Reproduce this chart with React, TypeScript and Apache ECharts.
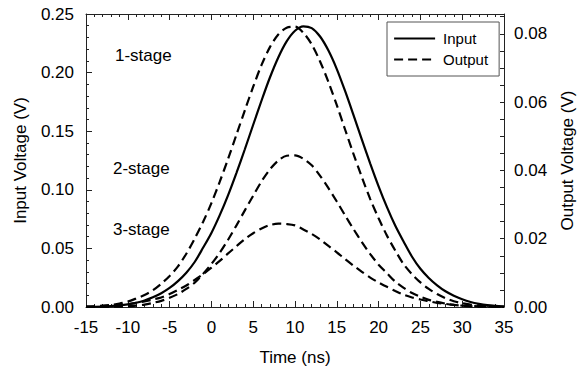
import { useEffect, useRef } from 'react';
import * as echarts from 'echarts';

// Time axis samples (ns)
const times = [-15, -14, -13, -12, -11, -10, -9, -8, -7, -6, -5, -4, -3, -2, -1, 0, 1, 2, 3, 4, 5, 6, 7, 8, 9, 10, 11, 12, 13, 14, 15, 16, 17, 18, 19, 20, 21, 22, 23, 24, 25, 26, 27, 28, 29, 30, 31, 32, 33, 34, 35];

// Input voltage (V), left axis
const inputV = [0.0001, 0.0002, 0.0004, 0.0008, 0.0013, 0.0022, 0.0036, 0.0056, 0.0083, 0.0118, 0.0163, 0.0221, 0.0293, 0.0384, 0.0505,
  0.0632, 0.0784, 0.0955, 0.1145, 0.1346, 0.1555, 0.1762, 0.1958, 0.2129, 0.2266, 0.2357,
  0.2395, 0.2379, 0.2308, 0.2188, 0.2030, 0.1841, 0.1637, 0.1428, 0.1224, 0.1030, 0.0852, 0.0693, 0.0557, 0.0429, 0.0326, 0.0248, 0.0185, 0.0134, 0.0096, 0.0066, 0.0043, 0.0027, 0.0016, 0.0010, 0.0006];

// Output voltage (V), right axis
const output1 = [0.0001, 0.0002, 0.0004, 0.0006, 0.0010, 0.0016, 0.0025, 0.0035, 0.0049, 0.0068, 0.0091, 0.0119, 0.0156, 0.0200, 0.0249,
  0.0304, 0.0367, 0.0434, 0.0505, 0.0576, 0.0645, 0.0709, 0.0761, 0.0798, 0.0818, 0.0821,
  0.0803, 0.0769, 0.0719, 0.0659, 0.0591, 0.0519, 0.0448, 0.0380, 0.0316, 0.0260, 0.0209, 0.0165, 0.0125, 0.0096, 0.0072, 0.0053, 0.0038, 0.0026, 0.0017, 0.0011, 0.0007, 0.0004, 0.0002, 0.0001, 0.0001];
const output2 = [0, 0, 0, 0.0001, 0.0001, 0.0002, 0.0004, 0.0007, 0.0012, 0.0018, 0.0027, 0.0038, 0.0053, 0.0071, 0.0097,
  0.0126, 0.0159, 0.0197, 0.0239, 0.0283, 0.0326, 0.0368, 0.0403, 0.0429, 0.0443, 0.0444,
  0.0434, 0.0415, 0.0384, 0.0348, 0.0309, 0.0268, 0.0228, 0.0190, 0.0155, 0.0124, 0.0099, 0.0074, 0.0056, 0.0041, 0.0030, 0.0021, 0.0015, 0.0010, 0.0006, 0.0004, 0.0002, 0.0001, 0.0001, 0, 0];
const output3 = [0.0001, 0.0001, 0.0002, 0.0003, 0.0005, 0.0008, 0.0012, 0.0016, 0.0022, 0.0028, 0.0038, 0.0050, 0.0063, 0.0079, 0.0096,
  0.0115, 0.0135, 0.0157, 0.0178, 0.0199, 0.0216, 0.0230, 0.0240, 0.0244, 0.0243, 0.0239,
  0.0227, 0.0214, 0.0198, 0.0179, 0.0160, 0.0140, 0.0121, 0.0103, 0.0086, 0.0072, 0.0059, 0.0047, 0.0036, 0.0028, 0.0022, 0.0017, 0.0012, 0.0009, 0.0006, 0.0004, 0.0003, 0.0002, 0.0001, 0.0001, 0];

const stageLabels = ['1-stage', '2-stage', '3-stage'];

const FONT = 'Liberation Sans, Arial, Helvetica, sans-serif';
const AXIS_COLOR = '#222';

export default function App() {
  const ref = useRef<HTMLDivElement>(null);
  useEffect(() => {
    const chart = echarts.init(ref.current!, undefined, { renderer: 'svg', width: 584, height: 371 });
    const pairs = (ys: number[]) => times.map((t, i) => [t, ys[i]]);
    const solid = { color: '#000', width: 2.2, type: 'solid' as const };
    const dashed = { color: '#000', width: 2.2, type: [9, 5] as number[] };
    const axisLine = { show: true, onZero: false, lineStyle: { color: AXIS_COLOR, width: 1 } };
    const xCommon = {
      type: 'value' as const,
      min: -15,
      max: 35,
      interval: 5,
      axisLine,
      axisTick: { show: true, inside: true, length: 6, lineStyle: { color: AXIS_COLOR } },
      minorTick: { show: true, splitNumber: 5, length: 3, lineStyle: { color: AXIS_COLOR } },
      splitLine: { show: false },
    };
    chart.setOption({
      animation: false,
      backgroundColor: '#fff',
      textStyle: { fontFamily: FONT, color: '#000' },
      grid: { left: 86, top: 14, width: 422, height: 295.5 },
      legend: {
        data: ['Input', 'Output'],
        orient: 'vertical',
        left: 387,
        top: 22,
        itemWidth: 41,
        itemHeight: 15,
        itemGap: 6,
        padding: [9, 11, 9, 6],
        borderColor: '#555',
        borderWidth: 1,
        backgroundColor: '#fff',
        itemStyle: { color: 'rgba(0,0,0,0)', borderColor: 'rgba(0,0,0,0)', borderWidth: 0 },
        lineStyle: { color: '#000', width: 2.2 },
        textStyle: { fontFamily: FONT, fontSize: 15, color: '#000', padding: [0, 0, 0, 3] },
        selectedMode: false,
      },
      xAxis: [
        {
          ...xCommon,
          position: 'bottom',
          name: 'Time (ns)',
          nameLocation: 'middle',
          nameGap: 42,
          nameTextStyle: { fontFamily: FONT, fontSize: 17, color: '#000' },
          axisLabel: { fontFamily: FONT, fontSize: 17, color: '#000', margin: 12 },
        },
        {
          ...xCommon,
          position: 'top',
          axisLabel: { show: false },
        },
      ],
      yAxis: [
        {
          type: 'value',
          position: 'left',
          min: 0,
          max: 0.25,
          interval: 0.05,
          name: 'Input Voltage (V)',
          nameLocation: 'middle',
          nameGap: 57,
          nameTextStyle: { fontFamily: FONT, fontSize: 17, color: '#000' },
          axisLine,
          axisTick: { show: true, inside: true, length: 6, lineStyle: { color: AXIS_COLOR } },
          minorTick: { show: true, splitNumber: 5, length: 3, lineStyle: { color: AXIS_COLOR } },
          splitLine: { show: false },
          axisLabel: { fontFamily: FONT, fontSize: 17, color: '#000', margin: 12, formatter: (v: number) => v.toFixed(2) },
        },
        {
          type: 'value',
          position: 'right',
          min: 0,
          max: 0.0858,
          interval: 0.005,
          name: 'Output Voltage (V)',
          nameLocation: 'middle',
          nameGap: 55,
          nameTextStyle: { fontFamily: FONT, fontSize: 17, color: '#000' },
          axisLine,
          axisTick: { show: true, inside: true, length: 4, lineStyle: { color: AXIS_COLOR } },
          splitLine: { show: false },
          axisLabel: {
            fontFamily: FONT,
            fontSize: 17,
            color: '#000',
            margin: 10,
            showMaxLabel: false,
            formatter: (v: number) => {
              const k = v / 0.02;
              return Math.abs(k - Math.round(k)) < 1e-6 ? v.toFixed(2) : '';
            },
          },
        },
      ],
      series: [
        { name: 'Input', type: 'line', yAxisIndex: 0, data: pairs(inputV), symbol: 'none', smooth: 0.3, lineStyle: solid, itemStyle: { color: '#000' }, z: 3 },
        { name: 'Output', type: 'line', yAxisIndex: 1, data: pairs(output1), symbol: 'none', smooth: 0.3, lineStyle: dashed, itemStyle: { color: '#000' }, z: 2 },
        { name: 'Output', type: 'line', yAxisIndex: 1, data: pairs(output2), symbol: 'none', smooth: 0.3, lineStyle: dashed, itemStyle: { color: '#000' }, z: 2 },
        { name: 'Output', type: 'line', yAxisIndex: 1, data: pairs(output3), symbol: 'none', smooth: 0.3, lineStyle: dashed, itemStyle: { color: '#000' }, z: 2 },
      ],
      graphic: [
        { type: 'text', left: 115, top: 47, style: { text: stageLabels[0], fontFamily: FONT, fontSize: 17, fill: '#000' } },
        { type: 'text', left: 113, top: 160, style: { text: stageLabels[1], fontFamily: FONT, fontSize: 17, fill: '#000' } },
        { type: 'text', left: 113, top: 221, style: { text: stageLabels[2], fontFamily: FONT, fontSize: 17, fill: '#000' } },
      ],
    });
    return () => chart.dispose();
  }, []);
  return <div ref={ref} style={{ position: 'fixed', left: 0, top: 0, width: 584, height: 371, background: '#fff' }} />;
}
